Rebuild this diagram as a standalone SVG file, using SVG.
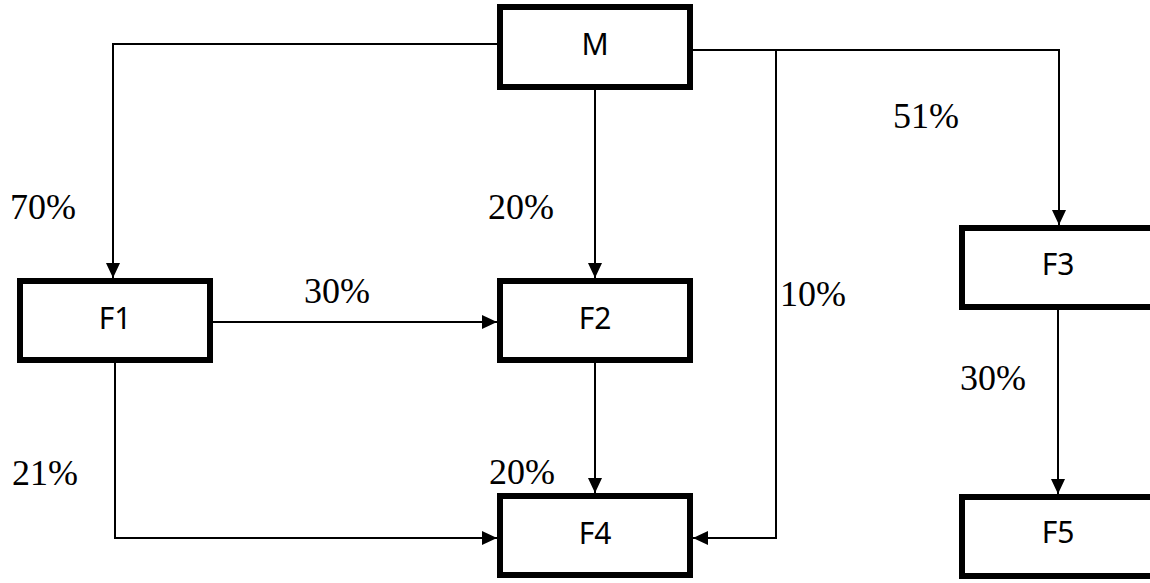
<svg xmlns="http://www.w3.org/2000/svg" width="1150" height="583" viewBox="0 0 1150 583">
  <style>
    .box { fill: #ffffff; stroke: #000000; stroke-width: 6; }
    .name { font-family: "Noto Sans", "Open Sans", sans-serif; font-size: 30px; fill: #000000; text-anchor: middle; }
    .pct { font-family: "Liberation Serif", "DejaVu Serif", serif; font-size: 36px; fill: #000000; }
    .link { fill: none; stroke: #000000; stroke-width: 2; }
  </style>
  <defs>
    <marker id="arrow" markerUnits="userSpaceOnUse" markerWidth="16" markerHeight="14" refX="15" refY="7" orient="auto">
      <path d="M0,0 L15,7 L0,14 Z" fill="#000000"/>
    </marker>
  </defs>
  <rect width="1150" height="583" fill="#ffffff"/>

  <!-- connectors -->
  <g id="connectors">
    <path class="link" d="M500,44 H113 V278" marker-end="url(#arrow)"/>
    <path class="link" d="M595,78 V278" marker-end="url(#arrow)"/>
    <path class="link" d="M693,50 H1059 V225" marker-end="url(#arrow)"/>
    <path class="link" d="M776,50 V538 H693" marker-end="url(#arrow)"/>
    <path class="link" d="M213,322 H497" marker-end="url(#arrow)"/>
    <path class="link" d="M115,363 V538 H497" marker-end="url(#arrow)"/>
    <path class="link" d="M595,363 V493" marker-end="url(#arrow)"/>
    <path class="link" d="M1058,310 V494" marker-end="url(#arrow)"/>
  </g>

  <!-- nodes -->
  <g id="node-M">
    <rect class="box" x="500" y="7" width="190" height="80"/>
    <text class="name" x="595" y="55">M</text>
  </g>
  <g id="node-F1">
    <rect class="box" x="20" y="281" width="190" height="79"/>
    <text class="name" x="115" y="329">F1</text>
  </g>
  <g id="node-F2">
    <rect class="box" x="500" y="281" width="190" height="79"/>
    <text class="name" x="595" y="329">F2</text>
  </g>
  <g id="node-F3">
    <rect class="box" x="962" y="228" width="192" height="79"/>
    <text class="name" x="1058" y="275">F3</text>
  </g>
  <g id="node-F4">
    <rect class="box" x="500" y="496" width="190" height="79"/>
    <text class="name" x="595" y="544">F4</text>
  </g>
  <g id="node-F5">
    <rect class="box" x="962" y="497" width="192" height="79"/>
    <text class="name" x="1058" y="543">F5</text>
  </g>

  <!-- share labels -->
  <g id="labels">
    <text class="pct" x="10" y="219">70%</text>
    <text class="pct" x="488" y="219">20%</text>
    <text class="pct" x="893" y="128">51%</text>
    <text class="pct" x="304" y="303">30%</text>
    <text class="pct" x="780" y="306">10%</text>
    <text class="pct" x="960" y="390">30%</text>
    <text class="pct" x="12" y="485">21%</text>
    <text class="pct" x="489" y="484">20%</text>
  </g>
</svg>
